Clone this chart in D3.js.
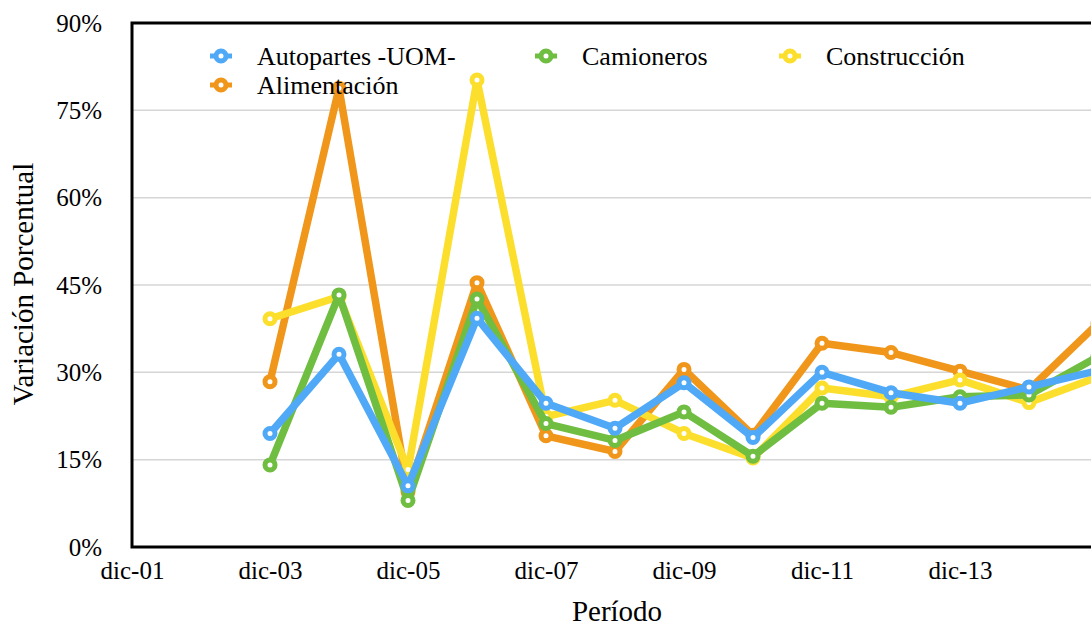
<!DOCTYPE html>
<html>
<head>
<meta charset="utf-8">
<script src="https://cdn.jsdelivr.net/npm/d3@7"></script>
<style>
    html, body { margin: 0; padding: 0; background: #fff; overflow: hidden; }
</style>
</head>
<body>
<div id="chart"></div>
<script>
const years = [2003, 2004, 2005, 2006, 2007, 2008, 2009, 2010, 2011, 2012, 2013, 2014, 2015];
const autopartes = [19.5, 33.1, 10.5, 39.3, 24.7, 20.4, 28.2, 18.8, 30.0, 26.5, 24.7, 27.5, 30.3];
const alimentacion = [28.4, 78.8, 9.5, 45.4, 19.1, 16.4, 30.5, 19.2, 35.0, 33.4, 30.2, 27.0, 38.4];
const camioneros = [14.1, 43.3, 8.0, 42.6, 21.2, 18.3, 23.2, 15.6, 24.7, 24.0, 25.8, 26.1, 32.7];
const construccion = [39.2, 43.0, 13.3, 80.2, 22.4, 25.2, 19.5, 15.3, 27.3, 25.8, 28.7, 24.8, 29.2];
const yTicks = [0, 15, 30, 45, 60, 75, 90];
const xTicks = [2001, 2003, 2005, 2007, 2009, 2011, 2013];

const width = 1091;
const height = 627;
const margin = { top: 23, left: 132, bottom: 80 };
const innerHeight = height - margin.top - margin.bottom;
const serif = 'Liberation Serif';

// series listed bottom to top, the way they are stacked in the picture
const series = [
    { name: 'Alimentación', color: '#f0961b', values: alimentacion },
    { name: 'Construcción', color: '#fcdf2c', values: construccion },
    { name: 'Camioneros', color: '#6fbe41', values: camioneros },
    { name: 'Autopartes -UOM-', color: '#50a9f6', values: autopartes }
];

const svg = d3.select('#chart')
    .append('svg')
    .attr('width', width)
    .attr('height', height);

const x = d3.scaleLinear()
    .domain([2001, 2016])
    .range([margin.left, margin.left + 15 * 69]);

const y = d3.scaleLinear()
    .domain([0, 90])
    .range([margin.top + innerHeight, margin.top]);

// grid
svg.append('g')
    .selectAll('line')
    .data(yTicks.filter(d => d > 0 && d < 90))
    .enter()
    .append('line')
    .attr('x1', margin.left)
    .attr('x2', width + 20)
    .attr('y1', d => y(d))
    .attr('y2', d => y(d))
    .attr('stroke', '#d6d6d6')
    .attr('stroke-width', 1.5);

// y axis labels
const yAxis = svg.append('g')
    .attr('transform', `translate(${margin.left}, 0)`)
    .call(d3.axisLeft(y).tickValues(yTicks).tickFormat(d => d + '%').tickSize(0).tickPadding(30));
yAxis.select('.domain').remove();
yAxis.selectAll('text')
    .style('font-family', serif)
    .style('font-size', '25px')
    .attr('fill', '#000');

// x axis labels
const xAxis = svg.append('g')
    .attr('transform', `translate(0, ${y(0)})`)
    .call(d3.axisBottom(x).tickValues(xTicks)
        .tickFormat(d => 'dic-' + String(d % 100).padStart(2, '0'))
        .tickSize(0).tickPadding(14));
xAxis.select('.domain').remove();
xAxis.selectAll('text')
    .style('font-family', serif)
    .style('font-size', '25px')
    .attr('fill', '#000');

// frame
svg.append('path')
    .attr('d', `M${width + 20},${y(90)}H${margin.left}V${y(0)}H${width + 20}`)
    .attr('fill', 'none')
    .attr('stroke', '#000')
    .attr('stroke-width', 3);

const line = d3.line()
    .x((d, i) => x(years[i]))
    .y(d => y(d));

const groups = svg.append('g')
    .selectAll('g')
    .data(series)
    .enter()
    .append('g');

groups.append('path')
    .attr('d', d => line(d.values))
    .attr('fill', 'none')
    .attr('stroke', d => d.color)
    .attr('stroke-width', 7.5)
    .attr('stroke-linejoin', 'round');

groups.selectAll('circle')
    .data(d => d.values.map((v, i) => ({ v, i, color: d.color })))
    .enter()
    .append('circle')
    .attr('cx', d => x(years[d.i]))
    .attr('cy', d => y(d.v))
    .attr('r', 5)
    .attr('fill', '#fff')
    .attr('stroke', d => d.color)
    .attr('stroke-width', 5);

// legend
const legendItems = [
    { name: 'Autopartes -UOM-', color: '#50a9f6', lx: 221, ly: 56 },
    { name: 'Camioneros', color: '#6fbe41', lx: 546, ly: 56 },
    { name: 'Construcción', color: '#fcdf2c', lx: 790, ly: 56 },
    { name: 'Alimentación', color: '#f0961b', lx: 221, ly: 85 }
];

const legend = svg.append('g')
    .selectAll('g')
    .data(legendItems)
    .enter()
    .append('g')
    .attr('transform', d => `translate(${d.lx}, ${d.ly})`);

legend.append('line')
    .attr('x1', -11)
    .attr('x2', 11)
    .attr('stroke', d => d.color)
    .attr('stroke-width', 5);

legend.append('circle')
    .attr('r', 5)
    .attr('fill', '#fff')
    .attr('stroke', d => d.color)
    .attr('stroke-width', 5);

legend.append('text')
    .attr('x', 36)
    .attr('dy', '0.35em')
    .style('font-family', serif)
    .style('font-size', '26px')
    .text(d => d.name);

// axis titles
svg.append('text')
    .attr('x', 617)
    .attr('y', 621)
    .attr('text-anchor', 'middle')
    .style('font-family', serif)
    .style('font-size', '29px')
    .text('Período');

svg.append('text')
    .attr('transform', 'translate(33, 284) rotate(-90)')
    .attr('text-anchor', 'middle')
    .style('font-family', serif)
    .style('font-size', '29px')
    .text('Variación Porcentual');
</script>
</body>
</html>
